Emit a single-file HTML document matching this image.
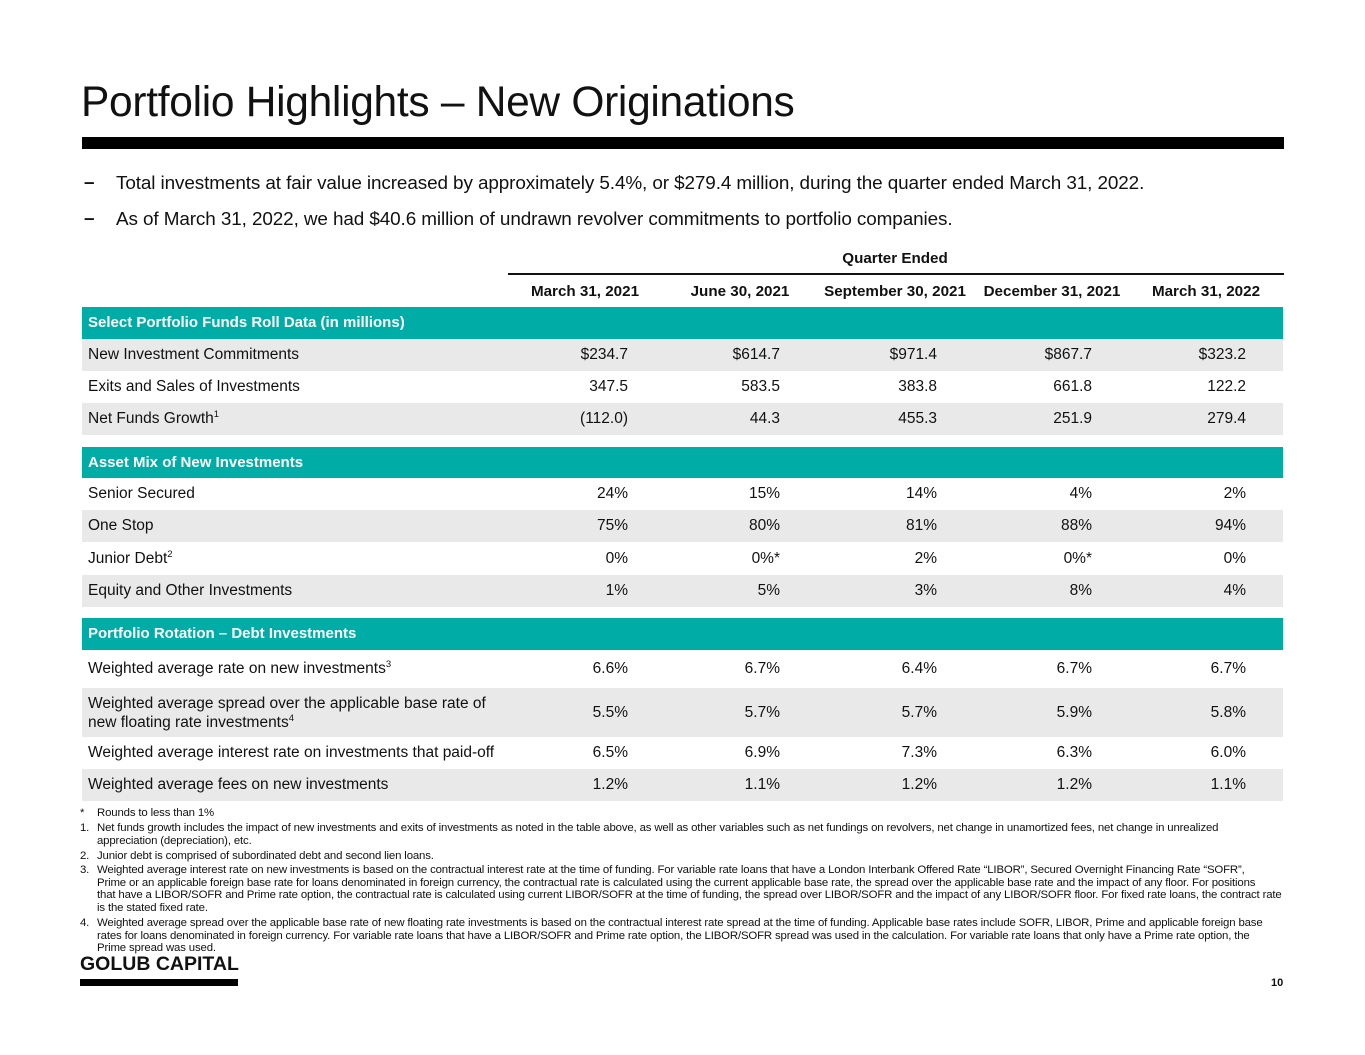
<!DOCTYPE html>
<html><head><meta charset="utf-8">
<style>
*{margin:0;padding:0;box-sizing:border-box}
body{width:1365px;height:1055px;background:#fff;position:relative;overflow:hidden;font-family:"Liberation Sans",Arial,sans-serif;color:#111}
.abs{position:absolute}
.title{left:81px;top:79px;font-size:42.5px;white-space:nowrap;letter-spacing:-0.3px}
.topbar{left:82px;top:137px;width:1202px;height:12px;background:#000}
.bullet{left:84px;font-size:18.9px;white-space:nowrap;letter-spacing:-0.1px}
.bullet b{position:absolute;left:0;top:-1px;font-weight:bold}
.bullet span{position:absolute;left:32px}
.row{left:82px;width:1201px;font-size:15.5px}
.row .lbl{position:absolute;left:6px;white-space:nowrap}
.row .v{position:absolute;white-space:nowrap;text-align:right;width:140px}
.gray{background:#e9e9e9}
.teal{background:#00ada6;color:#fff;font-weight:bold}
.teal .lbl{font-size:15px}
.hdr{font-weight:bold;font-size:15.2px;white-space:nowrap;text-align:center;width:170px}
sup{font-size:9.5px;vertical-align:6px;line-height:0}
.fn{left:80px;font-size:11.4px;line-height:12.6px;white-space:nowrap;color:#111;letter-spacing:-0.15px}
.fn .n{position:absolute;left:0}
.fn .t{position:absolute;left:17px}
</style></head>
<body>
<div class="abs title">Portfolio Highlights – New Originations</div>
<div class="abs topbar"></div>
<div class="abs bullet" style="top:173px"><b>–</b><span>Total investments at fair value increased by approximately 5.4%, or $279.4 million, during the quarter ended March 31, 2022.</span></div>
<div class="abs bullet" style="top:209px"><b>–</b><span>As of March 31, 2022, we had $40.6 million of undrawn revolver commitments to portfolio companies.</span></div>

<div class="abs hdr" style="left:810px;top:250px">Quarter Ended</div>
<div class="abs" style="left:508px;top:273px;width:776px;height:2px;background:#111"></div>
<div class="abs hdr" style="left:500px;top:283px">March 31, 2021</div>
<div class="abs hdr" style="left:655px;top:283px">June 30, 2021</div>
<div class="abs hdr" style="left:810px;top:283px">September 30, 2021</div>
<div class="abs hdr" style="left:967px;top:283px">December 31, 2021</div>
<div class="abs hdr" style="left:1121px;top:283px">March 31, 2022</div>

<div id="table"></div>

<div class="abs fn" style="top:807px"><span class="n">*</span><span class="t">Rounds to less than 1%</span></div>
<div class="abs fn" style="top:822px"><span class="n">1.</span><span class="t">Net funds growth includes the impact of new investments and exits of investments as noted in the table above, as well as other variables such as net fundings on revolvers, net change in unamortized fees, net change in unrealized<br>appreciation (depreciation), etc.</span></div>
<div class="abs fn" style="top:850px"><span class="n">2.</span><span class="t">Junior debt is comprised of subordinated debt and second lien loans.</span></div>
<div class="abs fn" style="top:864px"><span class="n">3.</span><span class="t">Weighted average interest rate on new investments is based on the contractual interest rate at the time of funding. For variable rate loans that have a London Interbank Offered Rate “LIBOR”, Secured Overnight Financing Rate “SOFR”,<br>Prime or an applicable foreign base rate for loans denominated in foreign currency, the contractual rate is calculated using the current applicable base rate, the spread over the applicable base rate and the impact of any floor. For positions<br>that have a LIBOR/SOFR and Prime rate option, the contractual rate is calculated using current LIBOR/SOFR at the time of funding, the spread over LIBOR/SOFR and the impact of any LIBOR/SOFR floor. For fixed rate loans, the contract rate<br>is the stated fixed rate.</span></div>
<div class="abs fn" style="top:917px"><span class="n">4.</span><span class="t">Weighted average spread over the applicable base rate of new floating rate investments is based on the contractual interest rate spread at the time of funding. Applicable base rates include SOFR, LIBOR, Prime and applicable foreign base<br>rates for loans denominated in foreign currency.  For variable rate loans that have a LIBOR/SOFR and Prime rate option, the LIBOR/SOFR spread was used in the calculation. For variable rate loans that only have a Prime rate option, the<br>Prime spread was used.</span></div>

<div class="abs" style="left:80px;top:953px;font-size:19.5px;font-weight:bold;letter-spacing:0px;white-space:nowrap">GOLUB CAPITAL</div>
<div class="abs" style="left:80px;top:979px;width:158px;height:7px;background:#000"></div>
<div class="abs" style="left:1271px;top:977px;font-size:11px;font-weight:bold">10</div>

<script>
const colRight = [628, 780, 937, 1092, 1246];
const rows = [
  {type:'teal', top:307, h:32, label:'Select Portfolio Funds Roll Data (in millions)'},
  {type:'gray', top:339, h:32, label:'New Investment Commitments', vals:['$234.7','$614.7','$971.4','$867.7','$323.2']},
  {type:'white', top:371, h:32, label:'Exits and Sales of Investments', vals:['347.5','583.5','383.8','661.8','122.2']},
  {type:'gray', top:403, h:32, label:'Net Funds Growth<sup>1</sup>', vals:['(112.0)','44.3','455.3','251.9','279.4']},
  {type:'teal', top:447, h:31, label:'Asset Mix of New Investments'},
  {type:'white', top:478, h:32, label:'Senior Secured', vals:['24%','15%','14%','4%','2%']},
  {type:'gray', top:510, h:32, label:'One Stop', vals:['75%','80%','81%','88%','94%']},
  {type:'white', top:542, h:33, label:'Junior Debt<sup>2</sup>', vals:['0%','0%*','2%','0%*','0%']},
  {type:'gray', top:575, h:32, label:'Equity and Other Investments', vals:['1%','5%','3%','8%','4%']},
  {type:'teal', top:618, h:32, label:'Portfolio Rotation – Debt Investments'},
  {type:'white', top:650, h:38, label:'Weighted average rate on new investments<sup>3</sup>', vals:['6.6%','6.7%','6.4%','6.7%','6.7%']},
  {type:'gray', top:688, h:49, label:'Weighted average spread over the applicable base rate of<br>new floating rate investments<sup>4</sup>', vals:['5.5%','5.7%','5.7%','5.9%','5.8%']},
  {type:'white', top:737, h:32, label:'Weighted average interest rate on investments that paid-off', vals:['6.5%','6.9%','7.3%','6.3%','6.0%']},
  {type:'gray', top:769, h:32, label:'Weighted average fees on new investments', vals:['1.2%','1.1%','1.2%','1.2%','1.1%']}
];
const tbl = document.getElementById('table');
rows.forEach((r, i) => {
  const d = document.createElement('div');
  d.className = 'abs row ' + (r.type === 'white' ? '' : r.type);
  d.style.top = r.top + 'px';
  d.style.height = r.h + 'px';
  
  
  const l = document.createElement('div');
  l.className = 'lbl';
  l.innerHTML = r.label;
  const multi = r.label.indexOf('<br>') >= 0;
  l.style.lineHeight = multi ? '19px' : r.h + 'px';
  if (multi) l.style.top = '6px';
  
  
  d.appendChild(l);
  if (r.vals) r.vals.forEach((v, j) => {
    const c = document.createElement('div');
    c.className = 'v';
    c.textContent = v;
    c.style.left = (colRight[j] - 82 - 140) + 'px';
    c.style.lineHeight = r.h + 'px';
    
    
    d.appendChild(c);
  });
  tbl.appendChild(d);
});
</script>
</body></html>
